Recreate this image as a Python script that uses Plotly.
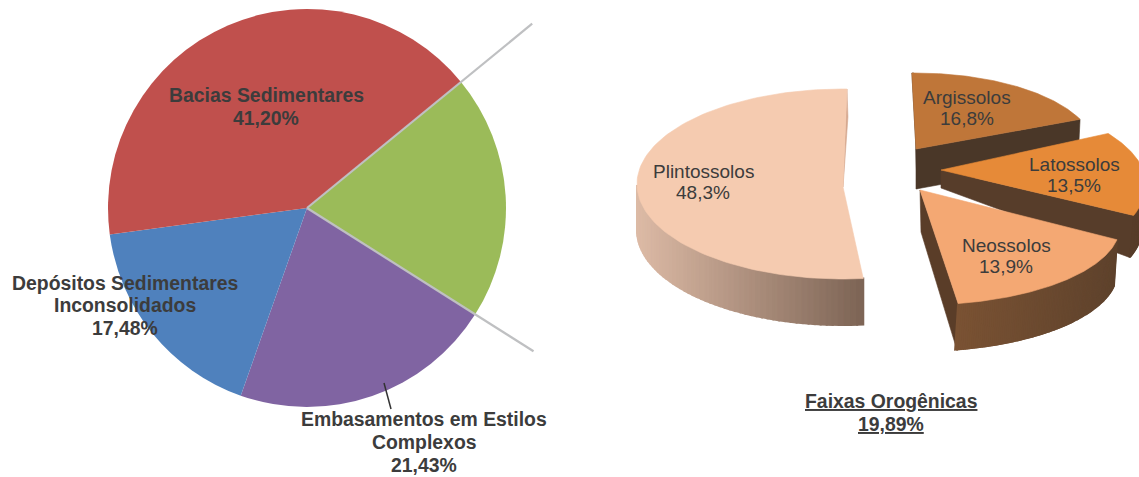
import math
import plotly.graph_objects as go

# ---- data ----
basin_names = ["Faixas Orogênicas", "Embasamentos em Estilos<br>Complexos", "Depósitos Sedimentares<br>Inconsolidados", "Bacias Sedimentares"]
basin_values = [19.89, 21.43, 17.48, 41.20]
basin_colors = ["#9BBB59", "#8064A2", "#4F81BD", "#C0504D"]
soil_names = ["Plintossolos", "Argissolos", "Latossolos", "Neossolos"]
soil_values = [48.3, 16.8, 13.5, 13.9]

W, H = 1139, 477
# left pie frame
PCX, PCY, PR = 307, 208, 199
ROT = 50.7

# 3D look of the right pie: ellipse, apex, start angle, visual stretch of the sweep
GEOM = {
    "Plintossolos": dict(cx=843, cy=184, ax=843, ay=187, rx=206, ry=95, start=1.1, k=-1.074, d=46, top="#F5CBB0"),
    "Argissolos": dict(cx=915, cy=150, ax=916, ay=149, rx=180, ry=77, start=-1, k=1.116, d=40, top="#BF7639"),
    "Latossolos": dict(cx=941, cy=185, ax=941, ay=170, rx=205, ry=89, start=54.6, k=1.14, d=42, top="#E68A38"),
    "Neossolos": dict(cx=920, cy=226, ax=920, ay=190, rx=200, ry=79, start=100, k=1.379, d=46, top="#F4A873"),
}

fig = go.Figure()


def poly(xs, ys, color, line=0.6):
    fig.add_trace(go.Scatter(x=list(xs) + [xs[0]], y=list(ys) + [ys[0]], mode="lines", fill="toself",
                             fillcolor=color, line=dict(color=color, width=line), hoverinfo="skip", showlegend=False))


def mix(a, b, t):
    ca = [int(a[i:i + 2], 16) for i in (1, 3, 5)]
    cb = [int(b[i:i + 2], 16) for i in (1, 3, 5)]
    return "rgb(%d,%d,%d)" % tuple(round(p + (q - p) * t) for p, q in zip(ca, cb))


def arc(g, value):
    n = 110
    sweep = value * 3.6 * g["k"]
    ts = [g["start"] + sweep * i / n for i in range(n + 1)]
    return ts, [g["cx"] + g["rx"] * math.sin(math.radians(t)) for t in ts], [g["cy"] - g["ry"] * math.cos(math.radians(t)) for t in ts]


def side(ts, xs, ys, d, c0, c1, dx=0):
    x0, x1 = min(xs), max(xs)
    for i in range(len(ts) - 1):
        if math.cos(math.radians((ts[i] + ts[i + 1]) / 2)) > 0:
            continue
        t = (xs[i] + xs[i + 1]) / 2
        t = (t - x0) / max(x1 - x0, 1)
        poly([xs[i], xs[i + 1], xs[i + 1] + dx, xs[i] + dx], [ys[i], ys[i + 1], ys[i + 1] + d, ys[i] + d], mix(c0, c1, t), line=2)


def top(g, xs, ys):
    poly([g["ax"]] + xs, [g["ay"]] + ys, g["top"])


# Plintossolos
g = GEOM["Plintossolos"]
ts, xs, ys = arc(g, soil_values[0])
side(ts, xs, ys, g["d"], "#DDBBA6", "#7D6455")
poly([xs[0], xs[0] + 1, g["ax"]], [ys[0], ys[0] + 28, g["ay"]], "#D5A88F")
top(g, xs, ys)

# Argissolos
g = GEOM["Argissolos"]
ts, xs, ys = arc(g, soil_values[1])
poly([g["ax"], xs[-1], xs[-1] - 2, g["ax"]], [g["ay"], ys[-1], ys[-1] + g["d"], g["ay"] + g["d"]], "#4A3728")
poly([xs[0], g["ax"], g["ax"] + 1, xs[0] + 2], [ys[0], g["ay"], g["ay"] + g["d"], ys[0]], "#4A3728")
top(g, xs, ys)

# Latossolos
g = GEOM["Latossolos"]
ts, xs, ys = arc(g, soil_values[2])
side(ts, xs, ys, g["d"], "#573D2A", "#573D2A", dx=-4)
poly([g["ax"], xs[-1], xs[-1] - 4, g["ax"]], [g["ay"], ys[-1], ys[-1] + g["d"], g["ay"] + 18], "#573D2A")
top(g, xs, ys)

# Neossolos
g = GEOM["Neossolos"]
ts, xs, ys = arc(g, soil_values[3])
poly([g["ax"], g["ax"] + 1, xs[-1] - 1, xs[-1]], [g["ay"], g["ay"] + 42, ys[-1] + 47, ys[-1]], "#5A3D28")
side(ts, xs, ys, g["d"], "#7A5233", "#5E422C", dx=-3)
top(g, xs, ys)

# left pie
fig.add_trace(go.Pie(values=basin_values, labels=basin_names, sort=False,
                     direction="clockwise", rotation=ROT, textinfo="none", hoverinfo="skip", showlegend=False,
                     marker=dict(colors=basin_colors, line=dict(width=0)),
                     domain=dict(x=[(PCX - PR) / W, (PCX + PR) / W], y=[1 - (PCY + PR) / H, 1 - (PCY - PR) / H])))


def pct2(v):
    return f"{v:.2f}%".replace(".", ",")


def pct1(v):
    return f"{v:.1f}%".replace(".", ",")


annotations = []


def note(x, ys, lines, size, bold=False, underline=False, color="#3C3C3C"):
    for y, line in zip(ys, lines):
        t = line
        if underline:
            t = f"<u>{t}</u>"
        if bold:
            t = f"<b>{t}</b>"
        annotations.append(dict(x=x, y=y, xref="x", yref="y", text=t, showarrow=False, xanchor="center", yanchor="middle",
                                font=dict(family="Liberation Sans, Arial", size=size, color=color)))


note(266, (95, 118), [basin_names[3], pct2(basin_values[3])], 19.4, bold=True)
note(125, (283, 305, 328), basin_names[2].split("<br>") + [pct2(basin_values[2])], 19.4, bold=True)
note(424, (419, 442, 465), basin_names[1].split("<br>") + [pct2(basin_values[1])], 19.4, bold=True)
note(703, (171, 192), [soil_names[0], pct1(soil_values[0])], 19)
note(967, (97, 118), [soil_names[1], pct1(soil_values[1])], 19)
note(1074, (164, 185), [soil_names[2], pct1(soil_values[2])], 19)
note(1006, (245, 266), [soil_names[3], pct1(soil_values[3])], 19)
note(891, (401, 424), [basin_names[0], pct2(basin_values[0])], 19.4, bold=True, underline=True)

# leader lines of the linked pie, following the edges of the green slice
a0 = math.radians(ROT)
a1 = math.radians(ROT + basin_values[0] * 3.6 * 100 / sum(basin_values))
shapes = []
for a, L in ((a0, 291), (a1, 268)):
    shapes.append(dict(type="line", xref="x", yref="y", layer="above", x0=PCX, y0=PCY,
                       x1=PCX + L * math.sin(a), y1=PCY - L * math.cos(a),
                       line=dict(color="#BFC0C2", width=2.2)))
shapes.append(dict(type="line", xref="x", yref="y", layer="above",
                   x0=384, y0=383, x1=391, y1=409, line=dict(color="#333333", width=1.5)))

fig.update_layout(width=W, height=H, margin=dict(l=0, r=0, t=0, b=0), paper_bgcolor="white", plot_bgcolor="white",
                  xaxis=dict(range=[0, W], visible=False, fixedrange=True),
                  yaxis=dict(range=[H, 0], visible=False, fixedrange=True),
                  annotations=annotations, shapes=shapes, showlegend=False)

fig.write_html("out.html", config=dict(displayModeBar=False),
               post_script="document.body.style.margin='0';document.body.style.overflow='hidden';")
